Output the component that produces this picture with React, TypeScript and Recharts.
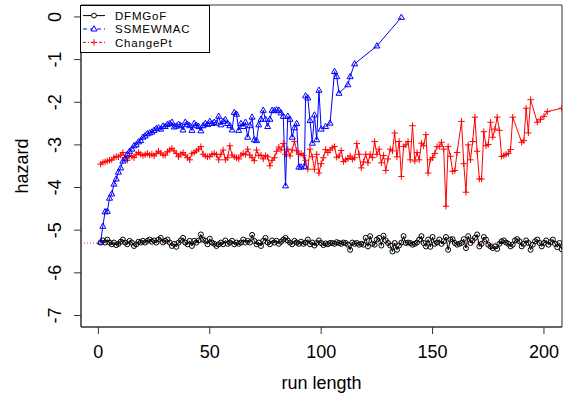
import { LineChart, Line, XAxis, YAxis, ReferenceLine, ReferenceArea, Legend } from "recharts";

const xTicks = [0, 50, 100, 150, 200];
const yTicks = [0, -1, -2, -3, -4, -5, -6, -7];

// DFMGoF, one value per run length 1..208
const dfmgofHazard = [
  -5.29, -5.24, -5.29, -5.22, -5.29, -5.33, -5.29, -5.35, -5.32, -5.27,
  -5.22, -5.29, -5.33, -5.25, -5.29, -5.37, -5.33, -5.27, -5.29, -5.25,
  -5.29, -5.25, -5.22, -5.27, -5.24, -5.29, -5.22, -5.18, -5.29, -5.25,
  -5.22, -5.29, -5.37, -5.32, -5.39, -5.29, -5.24, -5.18, -5.29, -5.33,
  -5.25, -5.37, -5.25, -5.29, -5.24, -5.10, -5.22, -5.25, -5.33, -5.2,
  -5.29, -5.32, -5.37, -5.33, -5.29, -5.33, -5.24, -5.32, -5.29, -5.25,
  -5.33, -5.29, -5.32, -5.29, -5.22, -5.29, -5.25, -5.29, -5.11, -5.25,
  -5.33, -5.29, -5.37, -5.25, -5.18, -5.29, -5.33, -5.24, -5.29, -5.25,
  -5.32, -5.27, -5.22, -5.18, -5.24, -5.29, -5.33, -5.25, -5.29, -5.32,
  -5.27, -5.32, -5.29, -5.22, -5.33, -5.29, -5.36, -5.3, -5.24, -5.3,
  -5.35, -5.31, -5.33, -5.3, -5.3, -5.32, -5.28, -5.3, -5.32, -5.29,
  -5.3, -5.34, -5.46, -5.29, -5.32, -5.3, -5.34, -5.32, -5.34, -5.18,
  -5.38, -5.14, -5.32, -5.34, -5.22, -5.18, -5.36, -5.13, -5.24, -5.3,
  -5.36, -5.5, -5.3, -5.46, -5.36, -5.29, -5.14, -5.3, -5.29, -5.3,
  -5.34, -5.32, -5.29, -5.22, -5.14, -5.3, -5.38, -5.22, -5.39, -5.16,
  -5.32, -5.29, -5.22, -5.32, -5.26, -5.16, -5.46, -5.22, -5.21, -5.3,
  -5.34, -5.32, -5.3, -5.21, -5.42, -5.14, -5.3, -5.24, -5.18, -5.1,
  -5.38, -5.32, -5.16, -5.22, -5.34, -5.38, -5.42, -5.38, -5.44, -5.32,
  -5.26, -5.24, -5.29, -5.32, -5.38, -5.34, -5.24, -5.21, -5.26, -5.38,
  -5.32, -5.24, -5.3, -5.46, -5.34, -5.26, -5.22, -5.3, -5.38, -5.3,
  -5.24, -5.34, -5.28, -5.22, -5.32, -5.4, -5.3, -5.45,
];

// SSMEWMAC
const ssmRunLength = [
  1, 2, 3, 4, 5, 6, 7, 8, 9, 10, 11, 12, 13, 14, 15, 16, 17, 18, 19, 20,
  21, 22, 23, 24, 25, 26, 27, 28, 29, 30, 31, 32, 33, 34, 35, 36, 37, 38, 39, 40,
  41, 42, 43, 44, 45, 46, 47, 48, 49, 50, 51, 52, 53, 54, 55, 56, 57, 58, 59, 60,
  61, 62, 63, 64, 65, 66, 67, 68, 69, 70, 71, 72, 73, 74, 75, 76, 77, 78, 79, 80,
  81, 82, 83, 84, 85, 86, 87, 88, 89, 90, 91, 92.5, 93, 94, 95, 96, 97, 98, 99, 100,
  102, 104, 106, 107, 108, 112, 113, 115, 125, 136,
];
const ssmHazard = [
  -5.28, -4.91, -4.57, -4.56, -4.25, -4.15, -3.92, -3.8, -3.64, -3.54,
  -3.38, -3.33, -3.22, -3.15, -3.1, -3.02, -3.0, -2.93, -2.9, -2.82,
  -2.79, -2.74, -2.72, -2.7, -2.66, -2.62, -2.6, -2.63, -2.56, -2.57,
  -2.52, -2.5, -2.47, -2.58, -2.56, -2.52, -2.55, -2.65, -2.47, -2.52,
  -2.55, -2.66, -2.5, -2.54, -2.57, -2.67, -2.55, -2.5, -2.52, -2.45,
  -2.5, -2.47, -2.49, -2.33, -2.53, -2.45, -2.41, -2.5, -2.55, -2.65,
  -2.24, -2.28, -2.66, -2.5, -2.57, -2.47, -2.82, -2.55, -2.35, -2.88,
  -2.9, -2.53, -2.4, -2.19, -2.4, -2.57, -2.4, -2.19, -2.2, -2.18,
  -2.19, -2.25, -2.33, -3.96, -2.33, -2.4, -2.82, -2.6, -2.5, -3.52,
  -3.52, -3.5, -1.85, -1.9, -2.43, -2.96, -2.3, -2.88, -1.72, -2.63,
  -2.57, -2.49, -1.28, -1.4, -1.79, -1.59, -1.4, -1.1, -0.68, -0.01,
];

// ChangePt, run lengths 1..155
const cpHazard = [
  -3.45, -3.41, -3.4, -3.38, -3.36, -3.35, -3.3, -3.27, -3.28, -3.24,
  -3.18, -3.3, -3.36, -3.25, -3.27, -3.3, -3.22, -3.18, -3.22, -3.25,
  -3.23, -3.2, -3.24, -3.22, -3.26, -3.2, -3.15, -3.19, -3.24, -3.24,
  -3.16, -3.12, -3.08, -3.14, -3.2, -3.28, -3.22, -3.18, -3.24, -3.3,
  -3.35, -3.2, -3.18, -3.14, -3.1, -3.04, -3.22, -3.26, -3.28, -3.27,
  -3.22, -3.2, -3.23, -3.35, -3.22, -3.12, -3.35, -3.3, -3.02, -3.24,
  -3.28, -3.3, -3.33, -3.24, -3.2, -3.22, -3.1, -3.24, -3.3, -3.37,
  -3.12, -3.25, -3.24, -3.33, -3.25, -3.28, -3.49, -3.36, -3.3, -3.15,
  -3.05, -3.12, -2.97, -3.22, -3.1, -3.26, -3.12, -2.92, -3.14, -3.22,
  -3.2, -3.25, -3.36, -3.57, -3.1, -3.28, -3.57, -3.22, -3.66, -3.44,
  -3.3, -3.11, -3.18, -3.12, -3.07, -3.04, -3.29, -3.26, -3.13, -3.39,
  -3.35, -3.32, -3.26, -3.34, -3.3, -2.97, -3.22, -3.54, -3.4, -3.22,
  -3.42, -3.22, -3.3, -2.92, -3.22, -3.1, -3.42, -3.25, -3.6, -3.33,
  -3.1, -3.14, -2.72, -3.28, -2.92, -3.74, -3.04, -3.0, -2.92, -3.35,
  -2.55, -3.38, -3.18, -3.35, -2.96, -3.02, -2.76, -3.66, -3.35, -3.3,
  -3.2, -3.04, -3.04, -2.94, -3.1,
];
// ChangePt, later run lengths
const cpTailRunLength = [
  156, 157, 158, 159, 160, 161, 163, 164, 165, 166, 167, 168, 169, 170,
  171, 172, 173, 174, 175, 176, 177, 178, 179, 180, 181, 182, 183, 184,
  185, 186, 190, 191, 192, 193, 194, 197, 198.5, 200, 201.5, 208,
];
const cpTailHazard = [
  -4.44, -3.04, -3.27, -3.62, -3.6, -3.18, -2.45, -3.44, -4.11, -3.0,
  -3.35, -2.92, -2.35, -3.15, -3.8, -3.8, -2.69, -3.02, -2.99, -2.47,
  -2.82, -2.63, -2.35, -2.66, -3.27, -3.25, -3.22, -3.2, -3.11, -2.35,
  -2.94, -2.9, -2.14, -2.72, -1.94, -2.47, -2.4, -2.33, -2.22, -2.14,
];

const dfmData = dfmgofHazard.map((y, i) => ({ x: i + 1, y }));
const ssmData = ssmRunLength.map((x, i) => ({ x, y: ssmHazard[i] }));
const cpData = [
  ...cpHazard.map((y, i) => ({ x: i + 1, y })),
  ...cpTailRunLength.map((x, i) => ({ x, y: cpTailHazard[i] })),
];

const FONT = "'Liberation Sans', Arial, sans-serif";
const BLUE = "#0000ff";
const RED = "#ff0000";

const XTick = ({ x, payload }: any) => (
  <text x={x} y={358} textAnchor="middle" fontSize={18} fontFamily={FONT} fill="#000">
    {payload.value}
  </text>
);

const YTick = ({ y, payload }: any) => (
  <text transform={`translate(61,${y}) rotate(-90)`} textAnchor="middle" fontSize={18} fontFamily={FONT} fill="#000">
    {payload.value}
  </text>
);

const circleDot = (p: any) => (
  <circle key={`c${p.index}`} cx={p.cx} cy={p.cy} r={2.5} fill="none" stroke="#000" strokeWidth={1} />
);
const triangleDot = (p: any) => (
  <path
    key={`t${p.index}`}
    d={`M${p.cx},${p.cy - 3.3}L${p.cx + 3},${p.cy + 2}L${p.cx - 3},${p.cy + 2}Z`}
    fill="none"
    stroke={BLUE}
    strokeWidth={1}
  />
);
const plusDot = (p: any) => (
  <path
    key={`p${p.index}`}
    d={`M${p.cx - 3.2},${p.cy}H${p.cx + 3.2}M${p.cx},${p.cy - 3.2}V${p.cy + 3.2}`}
    stroke={RED}
    strokeWidth={1}
  />
);

const legendRows = [
  { label: "DFMGoF", color: "#000", dash: undefined, mark: "circle" },
  { label: "SSMEWMAC", color: BLUE, dash: "4 3", mark: "triangle" },
  { label: "ChangePt", color: RED, dash: "3 2 1 2", mark: "plus" },
];

const renderLegend = () => (
  <svg width={130} height={48} style={{ display: "block" }}>
    <rect x={0.5} y={0.5} width={129} height={47} fill="#fff" stroke="#000" />
    {legendRows.map((row, i) => {
      const cy = 10.6 + i * 13.4;
      return (
        <g key={row.label}>
          <line x1={3} x2={25} y1={cy} y2={cy} stroke={row.color} strokeDasharray={row.dash} />
          {row.mark === "circle" && <circle cx={14} cy={cy} r={2.4} fill="#fff" stroke="#000" />}
          {row.mark === "triangle" && (
            <path d={`M14,${cy - 3.3}L17,${cy + 2}L11,${cy + 2}Z`} fill="#fff" stroke={BLUE} />
          )}
          {row.mark === "plus" && (
            <path d={`M10.8,${cy}H17.2M14,${cy - 3.2}V${cy + 3.2}`} stroke={RED} />
          )}
          <text x={35} y={cy + 4.2} fontSize={11.5} letterSpacing={0.8} fontFamily={FONT} fill="#000">
            {row.label}
          </text>
        </g>
      );
    })}
  </svg>
);

const X_DOMAIN = [-7.8, 208.1];
const Y_DOMAIN = [-7.27, 0.28];

export default function App() {
  return (
    <div style={{ position: "absolute", left: 0, top: 0, background: "#fff", fontFamily: FONT }}>
      <LineChart width={568} height={403} margin={{ top: 5, right: 6, left: 0, bottom: 0 }}>
        <XAxis
          type="number"
          dataKey="x"
          domain={X_DOMAIN}
          ticks={xTicks}
          allowDataOverflow
          height={76}
          tickSize={7}
          stroke="#333"
          tickLine={{ stroke: "#333" }}
          tick={XTick}
          label={() => (
            <text x={321.5} y={389} textAnchor="middle" fontSize={18} fontFamily={FONT} fill="#000">
              run length
            </text>
          )}
        />
        <YAxis
          type="number"
          dataKey="y"
          domain={Y_DOMAIN}
          ticks={yTicks}
          allowDataOverflow
          width={81}
          tickSize={7}
          stroke="#333"
          tickLine={{ stroke: "#333" }}
          tick={YTick}
          label={() => (
            <text transform="translate(28,166) rotate(-90)" textAnchor="middle" fontSize={18} fontFamily={FONT} fill="#000">
              hazard
            </text>
          )}
        />
        <ReferenceArea
          x1={X_DOMAIN[0]}
          x2={X_DOMAIN[1]}
          y1={Y_DOMAIN[0]}
          y2={Y_DOMAIN[1]}
          fill="none"
          stroke="#333"
          strokeWidth={1}
        />
        <ReferenceLine y={-5.3} stroke="#f0306e" strokeDasharray="1 2" />
        <Line
          data={dfmData}
          dataKey="y"
          stroke="#000"
          strokeWidth={1}
          dot={circleDot}
          activeDot={false}
          isAnimationActive={false}
        />
        <Line
          data={cpData}
          dataKey="y"
          stroke={RED}
          strokeWidth={1}
          dot={plusDot}
          activeDot={false}
          isAnimationActive={false}
        />
        <Line
          data={ssmData}
          dataKey="y"
          stroke={BLUE}
          strokeWidth={1}
          dot={triangleDot}
          activeDot={false}
          isAnimationActive={false}
        />
        <Legend
          layout="horizontal"
          verticalAlign="middle"
          align="center"
          content={renderLegend}
          wrapperStyle={{ left: 80, top: 5, width: 130, height: 48 }}
        />
      </LineChart>
    </div>
  );
}
